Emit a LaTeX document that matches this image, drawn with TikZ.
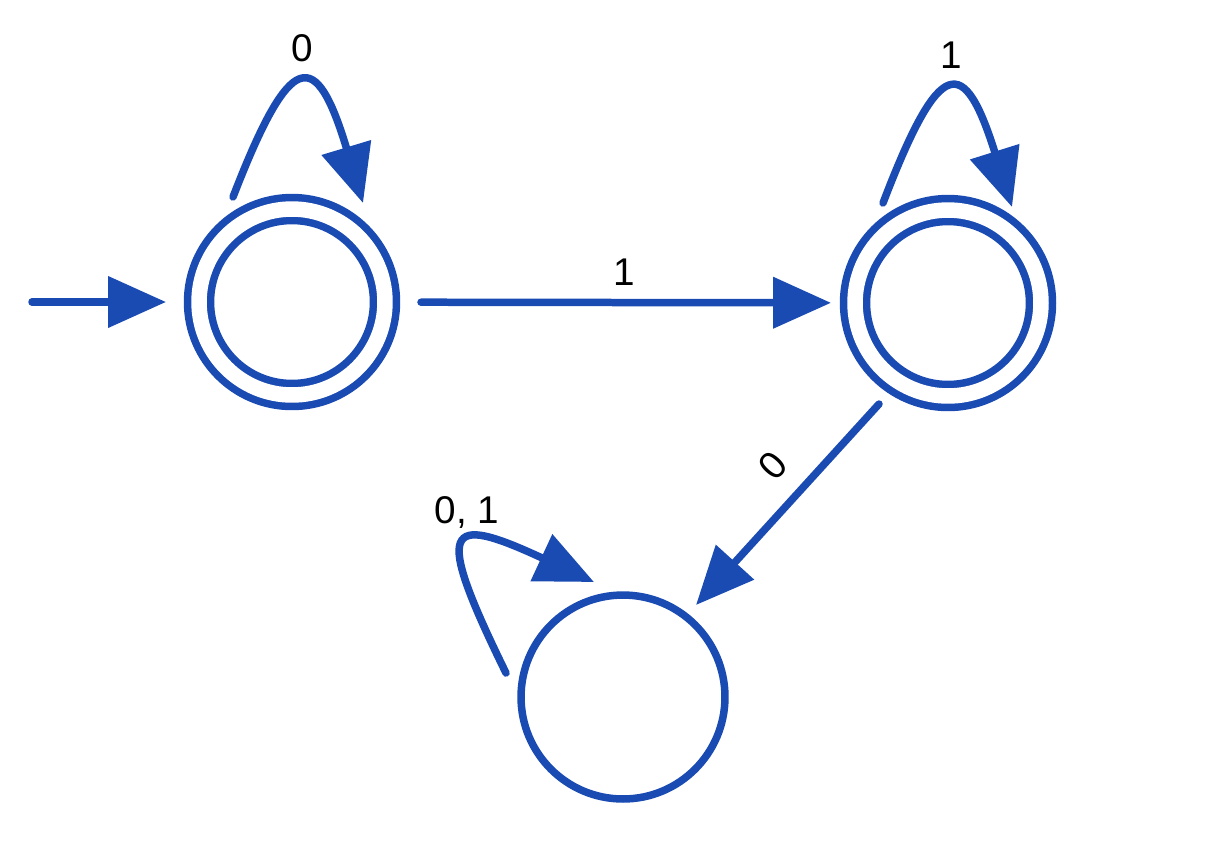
\documentclass[tikz,border=0pt]{standalone}
\usepackage{fontspec}
\setmainfont{Liberation Sans}
\usetikzlibrary{arrows.meta,calc}
\definecolor{fsa}{RGB}{26,75,179}
\begin{document}
\begin{tikzpicture}[x=0.02cm,y=-0.02cm,
  state/.style={circle,draw=fsa,line width=0.15cm,inner sep=0pt,outer sep=0pt,minimum size=4.08cm},
  accstate/.style={double=white,double distance=0.31cm,minimum size=3.72cm},
  edge/.style={draw=fsa,line width=0.15cm,line cap=round,-{Triangle[length=1.16cm,width=1.0cm]}},
  lbl/.style={inner sep=0pt,text=black,font=\fontsize{22}{26}\selectfont}]
\useasboundingbox (0,0) rectangle (1212,843);

% states
\node[state,accstate] (A) at (292,302) {};
\node[state,accstate] (B) at (948,303) {};
\node[state] (C) at (623,697) {};
\coordinate (in) at (32,302);

% initial arrow
\draw[edge,shorten >=0.66cm] (in) -- (A);

% transitions
\draw[edge,shorten <=0.72cm,shorten >=0.48cm] (A) -- node[lbl,pos=0.51,above=0.26cm]{1} (B);
\draw[edge] ($(B)+(-69,101)$) -- node[lbl,pos=0.43,sloped,above=0.4cm]{0} ($(C)+(73,-92)$);

% self-loops
\draw[edge] ($(A)+(-59,-105)$) .. controls ($(A)+(-1,-255)$) and ($(A)+(24,-255)$) .. ($(A)+(71,-99)$)
  node[lbl,pos=0.5,above=0.4cm]{0};
\draw[edge] ($(B)+(-65,-100)$) .. controls ($(B)+(-8,-249)$) and ($(B)+(16,-249)$) .. ($(B)+(64,-96)$)
  node[lbl,pos=0.5,above=0.4cm]{1};
\draw[edge] ($(C)+(-117,-24)$) .. controls ($(C)+(-190,-173)$) and ($(C)+(-178,-184)$) .. ($(C)+(-29,-115)$)
  node[lbl,pos=0.5,above=0.28cm]{0, 1};
\end{tikzpicture}
\end{document}
